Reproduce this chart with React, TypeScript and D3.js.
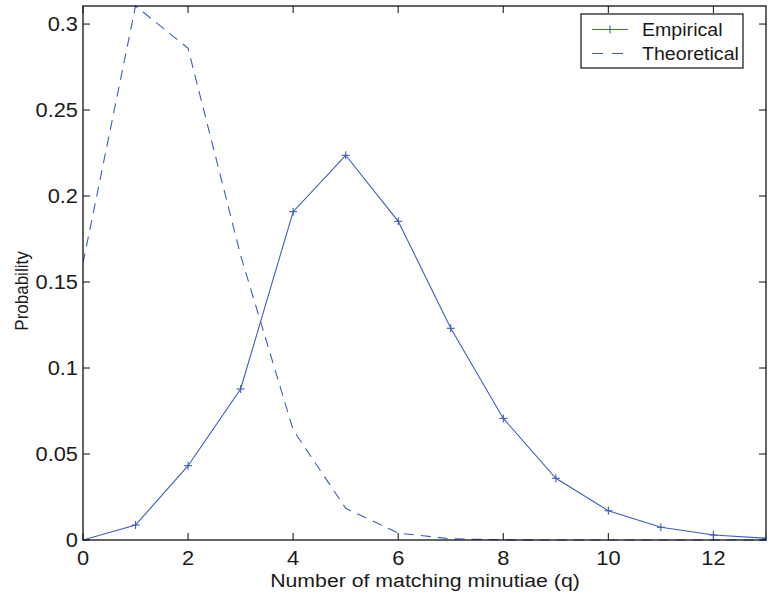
import React from "react";
import * as d3 from "d3";

// Number of matching minutiae q = 0..13
const qValues = [0, 1, 2, 3, 4, 5, 6, 7, 8, 9, 10, 11, 12, 13];
const empirical = [0, 0.0087, 0.0432, 0.0878, 0.1909, 0.2237, 0.1853, 0.1231, 0.0707, 0.0359, 0.017, 0.0074, 0.0029, 0.001];
const theoretical = [0.161, 0.3105, 0.2859, 0.1655, 0.064, 0.0184, 0.004, 0.0007, 0.0001, 0, 0, 0, 0, 0];
const xTicks = [0, 2, 4, 6, 8, 10, 12];
const yTicks = [0, 0.05, 0.1, 0.15, 0.2, 0.25, 0.3];
const yTickLabels = ["0", "0.05", "0.1", "0.15", "0.2", "0.25", "0.3"];
const seriesNames = ["Empirical", "Theoretical"];

const W = 774;
const H = 597;
const M = { left: 83, right: 766, top: 6, bottom: 540 };
const BLUE = "#3d5cbd";
const FONT = "'Liberation Sans', Arial, Helvetica, sans-serif";
const SX = 1.12; // horizontal text stretch

export default function App() {
  const x = d3.scaleLinear().domain([0, 13]).range([M.left, M.right]);
  const y = d3.scaleLinear().domain([0, 0.3105]).range([M.bottom, M.top]);

  const line = d3
    .line<number>()
    .x((_, i) => x(qValues[i]))
    .y((d) => y(d));

  const tickLen = 7;
  const plus = 4;

  const Txt = ({ tx, ty, anchor, size, children }: any) => (
    <g transform={`translate(${tx},${ty}) scale(${SX},1)`}>
      <text textAnchor={anchor} fontSize={size} fontFamily={FONT} fill="#1a1a1a">
        {children}
      </text>
    </g>
  );

  return (
    <svg
      width={W}
      height={H}
      style={{ position: "absolute", left: 0, top: 0, background: "#fff" }}
    >
      <rect x={0} y={0} width={W} height={H} fill="#fff" />
      <defs>
        <clipPath id="plotClip">
          <rect x={M.left} y={M.top - 1} width={M.right - M.left} height={M.bottom - M.top + 2} />
        </clipPath>
      </defs>

      {/* ticks on all four sides, pointing inward */}
      {xTicks.map((t) => (
        <g key={"xt" + t} stroke="#333" strokeWidth={1.2}>
          <line x1={x(t)} x2={x(t)} y1={M.bottom} y2={M.bottom - tickLen} />
          <line x1={x(t)} x2={x(t)} y1={M.top} y2={M.top + tickLen} />
        </g>
      ))}
      {yTicks.map((t) => (
        <g key={"yt" + t} stroke="#333" strokeWidth={1.2}>
          <line x1={M.left} x2={M.left + tickLen} y1={y(t)} y2={y(t)} />
          <line x1={M.right} x2={M.right - tickLen} y1={y(t)} y2={y(t)} />
        </g>
      ))}

      {/* series */}
      <g clipPath="url(#plotClip)">
        <path d={line(theoretical) || ""} fill="none" stroke={BLUE} strokeWidth={1.1} strokeDasharray="10,7" />
        <path d={line(empirical) || ""} fill="none" stroke={BLUE} strokeWidth={1.1} />
        {empirical.map((v, i) => (
          <g key={"m" + i} stroke={BLUE} strokeWidth={1.1}>
            <line x1={x(qValues[i]) - plus} x2={x(qValues[i]) + plus} y1={y(v)} y2={y(v)} />
            <line x1={x(qValues[i])} x2={x(qValues[i])} y1={y(v) - plus} y2={y(v) + plus} />
          </g>
        ))}
      </g>

      {/* axes box */}
      <rect
        x={M.left}
        y={M.top}
        width={M.right - M.left}
        height={M.bottom - M.top}
        fill="none"
        stroke="#111"
        strokeWidth={1.3}
      />

      {/* tick labels */}
      {xTicks.map((t) => (
        <Txt key={"xl" + t} tx={x(t)} ty={M.bottom + 25} anchor="middle" size={19.5}>
          {String(t)}
        </Txt>
      ))}
      {yTicks.map((t, i) => (
        <Txt key={"yl" + t} tx={78} ty={y(t) + 7} anchor="end" size={19.5}>
          {yTickLabels[i]}
        </Txt>
      ))}

      {/* axis titles */}
      <Txt tx={(270 + 580) / 2} ty={587} anchor="middle" size={19}>
        Number of matching minutiae (q)
      </Txt>
      <g transform={`translate(28,291) scale(${SX},1) rotate(-90)`}>
        <text textAnchor="middle" fontSize={17} fontFamily={FONT} fill="#1a1a1a">
          Probability
        </text>
      </g>

      {/* legend */}
      <rect x={581} y={14} width={162} height={54} fill="#fff" stroke="#111" strokeWidth={1.2} />
      <line x1={592} x2={628} y1={29.5} y2={29.5} stroke={BLUE} strokeWidth={1.1} />
      <line x1={610} x2={610} y1={25.5} y2={33.5} stroke={BLUE} strokeWidth={1.1} />
      <line x1={592} x2={628} y1={53.5} y2={53.5} stroke={BLUE} strokeWidth={1.1} strokeDasharray="11,9" />
      <Txt tx={642} ty={36} anchor="start" size={17.5}>
        {seriesNames[0]}
      </Txt>
      <Txt tx={642} ty={60} anchor="start" size={17.5}>
        {seriesNames[1]}
      </Txt>
    </svg>
  );
}
